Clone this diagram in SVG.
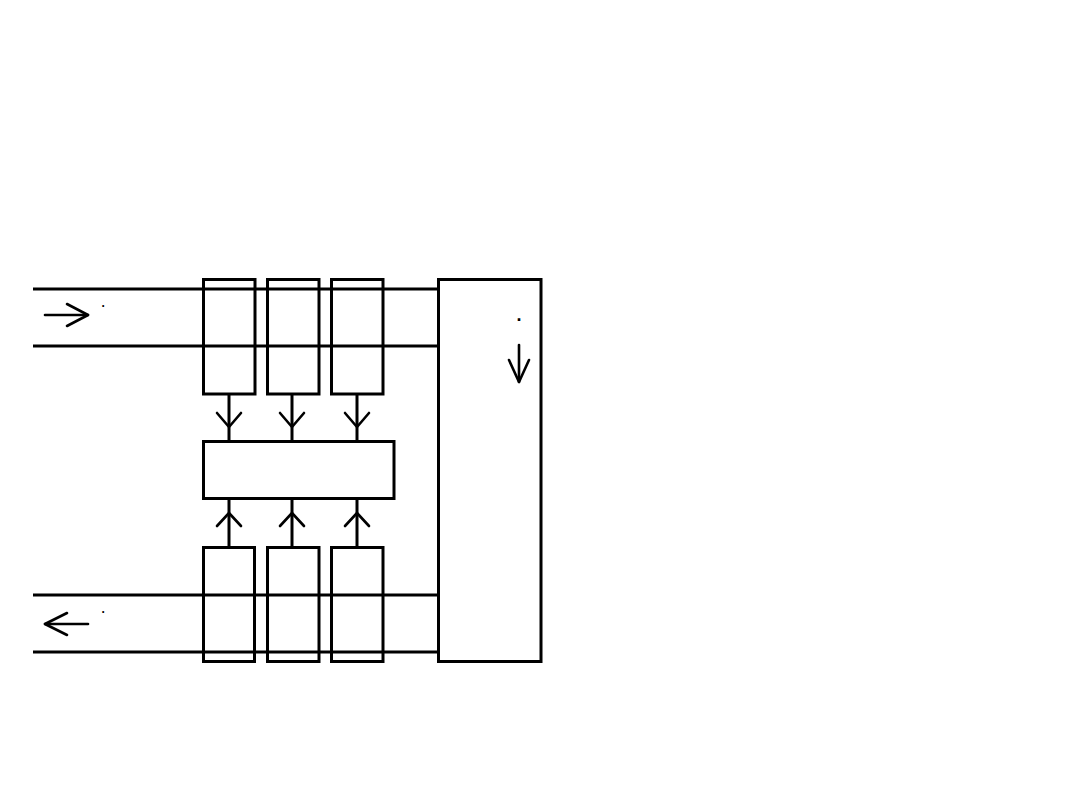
<svg xmlns="http://www.w3.org/2000/svg" width="1080" height="810" viewBox="0 0 1080 810">
<style>
.box{fill:none;stroke:#000;stroke-width:3}
.ln{fill:none;stroke:#000;stroke-width:3}
.ar{fill:none;stroke:#000;stroke-width:2.6;stroke-linecap:round;stroke-linejoin:round}
.dot{font-family:"Liberation Sans",Arial,sans-serif;fill:#000;font-weight:bold}
</style>
<rect width="1080" height="810" fill="#fff"/>
<g id="connectors">
<line class="ln" x1="33" y1="289" x2="438" y2="289" stroke-width="3.2"/>
<line class="ln" x1="33" y1="346" x2="438" y2="346" stroke-width="2.6"/>
<line class="ln" x1="33" y1="595" x2="438" y2="595" stroke-width="3.2"/>
<line class="ln" x1="33" y1="652" x2="438" y2="652" stroke-width="2.6"/>
<line class="ln" x1="229" y1="394" x2="229" y2="441"/>
<line class="ln" x1="292" y1="394" x2="292" y2="441"/>
<line class="ln" x1="357" y1="394" x2="357" y2="441"/>
<polyline class="ar" points="217,413 229,427 241,413"/>
<polyline class="ar" points="280,413 292,427 304,413"/>
<polyline class="ar" points="345,413 357,427 369,413"/>
<line class="ln" x1="229" y1="498" x2="229" y2="547"/>
<line class="ln" x1="292" y1="498" x2="292" y2="547"/>
<line class="ln" x1="357" y1="498" x2="357" y2="547"/>
<polyline class="ar" points="217,526 229,513 241,526"/>
<polyline class="ar" points="280,526 292,513 304,526"/>
<polyline class="ar" points="345,526 357,513 369,526"/>
<line class="ar" x1="45" y1="315" x2="88" y2="315"/>
<polyline class="ar" points="67,304 88,315 67,326"/>
<line class="ar" x1="45" y1="624" x2="88" y2="624"/>
<polyline class="ar" points="67,613 45,624 67,635"/>
<line class="ar" x1="519" y1="345" x2="519" y2="382"/>
<polyline class="ar" points="509,360 519,382 529,360"/>
</g>
<g id="in1"><rect class="box" x="203.5" y="279.5" width="51.5" height="114.5"/></g>
<g id="in2"><rect class="box" x="267.5" y="279.5" width="51.5" height="114.5"/></g>
<g id="in3"><rect class="box" x="331.5" y="279.5" width="51.5" height="114.5"/></g>
<g id="center"><rect class="box" x="203.5" y="441.5" width="190.5" height="57"/></g>
<g id="out1"><rect class="box" x="203.5" y="547.5" width="51" height="114"/></g>
<g id="out2"><rect class="box" x="267.5" y="547.5" width="51.5" height="114"/></g>
<g id="out3"><rect class="box" x="331.5" y="547.5" width="51.5" height="114"/></g>
<g id="side"><rect class="box" x="438.5" y="279.5" width="102.5" height="382"/></g>
<g id="labels">
<text class="dot" x="101.5" y="307" font-size="12">.</text>
<text class="dot" x="101.5" y="613" font-size="12">.</text>
<text class="dot" x="516.5" y="320.5" font-size="18">.</text>
</g>
</svg>
